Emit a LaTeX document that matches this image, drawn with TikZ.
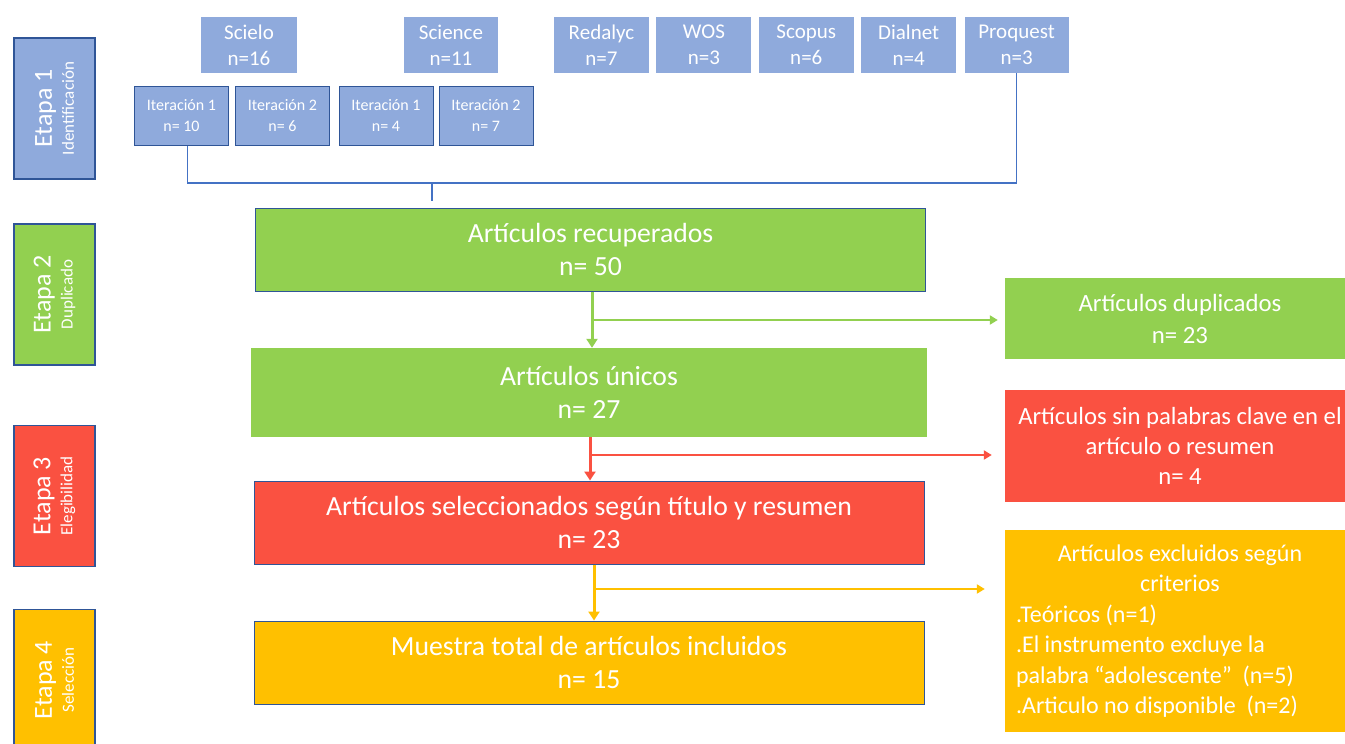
\documentclass[tikz,border=0pt]{standalone}
\usepackage{fontspec}
\setmainfont{Carlito}
\usepackage{xcolor}
\usetikzlibrary{arrows.meta,positioning}

\definecolor{azul}{HTML}{8FAADC}
\definecolor{borde}{HTML}{2F5597}
\definecolor{linea}{HTML}{4472C4}
\definecolor{verde}{HTML}{92D050}
\definecolor{rojo}{HTML}{FA5141}
\definecolor{amarillo}{HTML}{FFC000}

\tikzset{
  etapa/.style={draw=borde, line width=1.1pt, rotate=90, minimum width=141pt, minimum height=81pt},
  fuente/.style={fill=azul, minimum width=95pt, minimum height=56pt, font=\fontsize{21}{26}\selectfont},
  iter/.style={fill=azul, draw=borde, line width=1pt, minimum width=94pt, minimum height=59pt, font=\fontsize{16}{21}\selectfont},
  caja/.style={minimum width=670pt, minimum height=83pt, font=\fontsize{27.7}{33}\selectfont},
  lado/.style={minimum width=350pt, minimum height=81pt, font=\fontsize{24.8}{32}\selectfont},
  paso/.style={line width=3pt, -{Triangle[width=11pt,length=9pt]}},
  rama/.style={line width=2.5pt, -{Triangle[width=9pt,length=8pt]}}
}

\begin{document}
\begin{tikzpicture}[x=1pt, y=-1pt, every node/.style={text=white, align=center, inner sep=0pt}]
  \useasboundingbox[fill=white] (0,0) rectangle (1345,744);

  % etapas
  \node[etapa, fill=azul]     (E1) at (54.5,108.5) {{\fontsize{26}{26}\selectfont Etapa 1}\\[5pt]{\fontsize{17}{17}\selectfont Identificación}};
  \node[etapa, fill=verde]    (E2) at (54.5,294.5) {{\fontsize{26}{26}\selectfont Etapa 2}\\[5pt]{\fontsize{17}{17}\selectfont Duplicado}};
  \node[etapa, fill=rojo]     (E3) at (54.5,496)   {{\fontsize{26}{26}\selectfont Etapa 3}\\[5pt]{\fontsize{17}{17}\selectfont Elegibilidad}};
  \node[etapa, fill=amarillo] (E4) at (54.5,680)   {{\fontsize{26}{26}\selectfont Etapa 4}\\[5pt]{\fontsize{17}{17}\selectfont Selección}};

  % bases de datos
  \node[fuente, minimum width=96pt] (scielo)  at (249,45)              {Scielo\\n=16};
  \node[fuente, minimum width=94pt] (science) at (451,45)              {Science\\n=11};
  \node[fuente]                     (redalyc) at (601.5,45)            {Redalyc\\n=7};
  \node[fuente]                     (wos)     [right=7pt of redalyc]   {WOS\\n=3};
  \node[fuente]                     (scopus)  [right=7pt of wos]       {Scopus\\n=6};
  \node[fuente]                     (dialnet) [right=7pt of scopus]    {Dialnet\\n=4};
  \node[fuente, minimum width=104pt] (proquest) [right=8pt of dialnet] {Proquest\\n=3};

  \node[iter] (it1) at (181.5,115.5)    {Iteración 1\\n= 10};
  \node[iter] (it2) [right=6pt of it1]  {Iteración 2\\n= 6};
  \node[iter] (it3) at (386,115.5)      {Iteración 1\\n= 4};
  \node[iter] (it4) [right=5pt of it3]  {Iteración 2\\n= 7};

  % cajas principales
  \node[caja, fill=verde, draw=borde, line width=1pt] (recup)   at (590.5,249.5) {Artículos recuperados\\n= 50};
  \node[caja, fill=verde, minimum width=676pt, minimum height=89pt] (unicos) at (589,392.5) {Artículos únicos\\n= 27};
  \node[caja, fill=rojo, draw=borde, line width=1pt] (selec)    at (589,522.5) {Artículos seleccionados según título y resumen\\n= 23};
  \node[caja, fill=amarillo, draw=borde, line width=1pt] (muestra) at (589,662.5) {Muestra total de artículos incluidos\\n= 15};

  % cajas laterales
  \node[lado, fill=verde] (dup) at (1180,318.5) {Artículos duplicados\\n= 23};
  \node[lado, fill=rojo, minimum height=112pt, font=\fontsize{24.7}{30}\selectfont] (sin) at (1180,446)
    {Artículos sin palabras clave en el\\artículo o resumen\\n= 4};
  \node[lado, fill=amarillo, minimum height=202pt, align=left, font=\fontsize{24}{30.5}\selectfont] (excl) at (1180,631)
    {\makebox[328pt]{Artículos excluidos según}\\
     \makebox[328pt]{criterios}\\
     .Teóricos (n=1)\\
     .El instrumento excluye la\\
     palabra “adolescente”~ (n=5)\\
     .Articulo no disponible~ (n=2)};

  % conectores
  \coordinate (bus) at (432,183);
  \draw[linea, line width=1.6pt] ([xshift=6pt]it1.south) |- (bus) -| (proquest.south);
  \draw[linea, line width=1.2pt] (bus) -- ++(0,18);

  \coordinate (m1) at (592,320);
  \coordinate (m2) at (590,455);
  \coordinate (m3) at (594,589);
  \draw[paso, verde]    (recup.south -| m1) -- (unicos.north -| m1);
  \draw[rama, verde]    (m1) -- ([xshift=-7pt]m1 -| dup.west);
  \draw[paso, rojo]     (unicos.south -| m2) -- (selec.north -| m2);
  \draw[rama, rojo]     (m2) -- ([xshift=-13pt]m2 -| sin.west);
  \draw[paso, amarillo] (selec.south -| m3) -- (muestra.north -| m3);
  \draw[rama, amarillo] (m3) -- ([xshift=-20pt]m3 -| excl.west);
\end{tikzpicture}
\end{document}
